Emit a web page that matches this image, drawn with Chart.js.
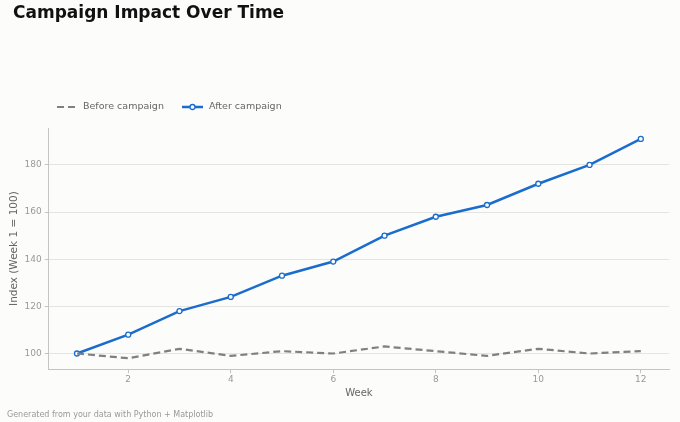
<!DOCTYPE html>
<html>
<head>
<meta charset="utf-8">
<script src="https://cdn.jsdelivr.net/npm/chart.js@4/dist/chart.umd.min.js"></script>
<style>
  html, body { margin: 0; padding: 0; background: #fcfcfb; }
  #wrap { width: 680px; height: 422px; position: relative; }
</style>
</head>
<body>
<div id="wrap"><canvas id="chart"></canvas></div>
<script>
	'use strict';

	// data
	var weeks = [1, 2, 3, 4, 5, 6, 7, 8, 9, 10, 11, 12];
	var beforeCampaign = [100, 98, 102, 99, 101, 100, 103, 101, 99, 102, 100, 101];
	var afterCampaign = [100, 108, 118, 124, 133, 139, 150, 158, 163, 172, 180, 191];
	var xTicks = [2, 4, 6, 8, 10, 12];
	var yTicks = [100, 120, 140, 160, 180];

	var FONT = "'DejaVu Sans', sans-serif";
	var BLUE = "#1a6dcc";
	var GREY = "#808080";
	var SPINE = "#c4c4c0";

	function toPoints(values) {
		return weeks.map(function(w, i) { return { x: w, y: values[i] }; });
	}

	// title, legend and footer drawn on the canvas like matplotlib does
	var decorations = {
		id: 'decorations',
		afterDraw: function(chart) {
			var ctx = chart.ctx;
			ctx.save();
			ctx.textBaseline = 'middle';

			ctx.fillStyle = '#111';
			ctx.font = "bold 17px " + FONT;
			ctx.fillText('Campaign Impact Over Time', 13, 14);

			// legend
			var ly = 107;
			ctx.lineWidth = 2;
			ctx.strokeStyle = GREY;
			ctx.setLineDash([7, 4]);
			ctx.beginPath();
			ctx.moveTo(57, ly);
			ctx.lineTo(77, ly);
			ctx.stroke();
			ctx.setLineDash([]);

			ctx.strokeStyle = BLUE;
			ctx.lineWidth = 2.5;
			ctx.beginPath();
			ctx.moveTo(182, ly);
			ctx.lineTo(203, ly);
			ctx.stroke();
			ctx.fillStyle = '#fff';
			ctx.lineWidth = 1.3;
			ctx.beginPath();
			ctx.arc(192.5, ly, 2.5, 0, Math.PI * 2);
			ctx.fill();
			ctx.stroke();

			ctx.fillStyle = '#666';
			ctx.font = "9.5px " + FONT;
			ctx.fillText('Before campaign', 83, ly);
			ctx.fillText('After campaign', 209, ly);

			ctx.fillStyle = '#999';
			ctx.font = "8px " + FONT;
			ctx.fillText('Generated from your data with Python + Matplotlib', 7, 415);
			ctx.restore();
		}
	};

	new Chart(document.getElementById('chart').getContext('2d'), {
		type: 'line',
		data: {
			datasets: [{
				label: 'Before campaign',
				data: toPoints(beforeCampaign),
				borderColor: GREY,
				borderWidth: 2.2,
				borderDash: [7, 4],
				pointRadius: 0,
				tension: 0
			}, {
				label: 'After campaign',
				data: toPoints(afterCampaign),
				borderColor: BLUE,
				borderWidth: 2.5,
				pointRadius: 2.5,
				pointBorderWidth: 1.3,
				pointBackgroundColor: '#fff',
				pointBorderColor: BLUE,
				tension: 0
			}]
		},
		options: {
			responsive: true,
			maintainAspectRatio: false,
			animation: false,
			layout: { padding: { top: 128, left: 8, right: 11, bottom: 23 } },
			plugins: {
				legend: { display: false },
				title: { display: false },
				tooltip: { enabled: false }
			},
			scales: {
				x: {
					type: 'linear',
					min: 0.45,
					max: 12.55,
					afterBuildTicks: function(axis) {
						axis.ticks = xTicks.map(function(v) { return { value: v }; });
					},
					grid: { display: true, drawOnChartArea: false, drawTicks: true, tickLength: 4, tickColor: SPINE },
					border: { display: true, color: SPINE, width: 1 },
					ticks: { color: '#999', font: { family: FONT, size: 9 }, padding: 1, maxRotation: 0 },
					title: { display: true, text: 'Week', color: '#666', font: { family: FONT, size: 10 }, padding: { top: 1, bottom: 0 } }
				},
				y: {
					min: 93.35,
					max: 195.65,
					afterBuildTicks: function(axis) {
						axis.ticks = yTicks.map(function(v) { return { value: v }; });
					},
					grid: { color: '#e4e4e1', lineWidth: 1, drawTicks: true, tickLength: 4, tickColor: SPINE },
					border: { display: true, color: SPINE, width: 1 },
					ticks: { color: '#999', font: { family: FONT, size: 9 }, padding: 3 },
					title: { display: true, text: 'Index (Week 1 = 100)', color: '#666', font: { family: FONT, size: 10.5 }, padding: { top: 0, bottom: 1 } }
				}
			}
		},
		plugins: [decorations]
	});
</script>
</body>
</html>
